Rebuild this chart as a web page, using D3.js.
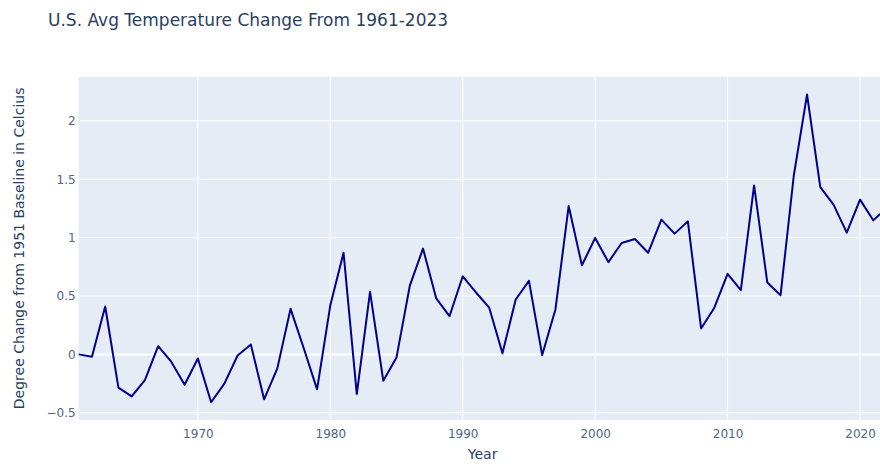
<!DOCTYPE html>
<html>
<head>
<meta charset="utf-8">
<script src="https://cdn.jsdelivr.net/npm/d3@7"></script>
<style>
  body { margin: 0; background: #fff; }
  svg { display: block; font-family: "DejaVu Sans", verdana, sans-serif; }
</style>
</head>
<body>
<div id="figure"></div>
<script>
// yearly values
var years = d3.range(1961, 2023);
var tempChange = [
  0.00, -0.02, 0.41, -0.285, -0.36, -0.22, 0.07, -0.065, -0.26, -0.035,
  -0.41, -0.25, -0.01, 0.085, -0.385, -0.12, 0.39, 0.05, -0.30, 0.42,
  0.87, -0.34, 0.535, -0.225, -0.026, 0.586, 0.906, 0.479, 0.327, 0.669,
  0.53, 0.40, 0.01, 0.47, 0.63, -0.006, 0.385, 1.27, 0.763, 0.997,
  0.79, 0.954, 0.988, 0.87, 1.154, 1.034, 1.139, 0.222, 0.40, 0.69,
  0.55, 1.447, 0.615, 0.507, 1.532, 2.225, 1.433, 1.282, 1.043, 1.325,
  1.148, 1.25
];
var xTicks = [1970, 1980, 1990, 2000, 2010, 2020];
var yTicks = [-0.5, 0, 0.5, 1, 1.5, 2];

var w = 880, h = 464;
var margin = {left: 78.7, top: 76.7, right: 886.5, bottom: 420};
var font = "\"DejaVu Sans\", verdana, sans-serif";

var svg = d3.select("#figure").append("svg")
  .attr("width", w).attr("height", h);

var x = d3.scaleLinear().domain([1961, 2022]).range([margin.left, margin.right]);
var y = d3.scaleLinear().domain([-0.562, 2.378]).range([margin.bottom, margin.top]);

svg.append("rect")
  .attr("x", margin.left)
  .attr("y", margin.top)
  .attr("width", margin.right - margin.left)
  .attr("height", margin.bottom - margin.top)
  .attr("fill", "#E5ECF6");

// grid
svg.append("g").selectAll("line")
  .data(xTicks).enter().append("line")
  .attr("x1", function(d) { return x(d); })
  .attr("x2", function(d) { return x(d); })
  .attr("y1", margin.top).attr("y2", margin.bottom)
  .attr("stroke", "#fff").attr("stroke-width", 1);

svg.append("g").selectAll("line")
  .data(yTicks).enter().append("line")
  .attr("x1", margin.left).attr("x2", margin.right)
  .attr("y1", function(d) { return y(d); })
  .attr("y2", function(d) { return y(d); })
  .attr("stroke", "#fff")
  .attr("stroke-width", function(d) { return d == 0 ? 2 : 1; });

// axes via d3 (domain and tick marks hidden, labels only)
var fmt = function(d) { return d < 0 ? "\u2212" + Math.abs(d) : String(d); };

var xAxis = svg.append("g")
  .attr("transform", "translate(0," + margin.bottom + ")")
  .call(d3.axisBottom(x).tickValues(xTicks).tickFormat(d3.format("d")).tickSize(0).tickPadding(9));

var yAxis = svg.append("g")
  .attr("transform", "translate(" + margin.left + ",0)")
  .call(d3.axisLeft(y).tickValues(yTicks).tickFormat(fmt).tickSize(0).tickPadding(3));

[xAxis, yAxis].forEach(function(a) {
  a.select(".domain").remove();
  a.selectAll("text")
    .attr("fill", "#506784")
    .style("font-size", "12px")
    .style("font-family", font);
});

// line
var line = d3.line()
  .x(function(d, i) { return x(years[i]); })
  .y(function(d) { return y(d); });

svg.append("path")
  .datum(tempChange)
  .attr("d", line)
  .attr("fill", "none")
  .attr("stroke", "darkblue")
  .attr("stroke-width", 2)
  .attr("stroke-linejoin", "round");

// titles
svg.append("text")
  .text("U.S. Avg Temperature Change From 1961-2023")
  .attr("x", 48)
  .attr("y", 26)
  .attr("fill", "#2a3f5f")
  .style("font-size", "17px");

svg.append("text")
  .text("Year")
  .attr("x", (margin.left + margin.right) / 2)
  .attr("y", 459)
  .attr("text-anchor", "middle")
  .attr("fill", "#2a3f5f")
  .style("font-size", "14px");

svg.append("text")
  .text("Degree Change from 1951 Baseline in Celcius")
  .attr("transform", "translate(24," + (margin.top + margin.bottom) / 2 + ") rotate(-90)")
  .attr("text-anchor", "middle")
  .attr("fill", "#2a3f5f")
  .style("font-size", "14px");
</script>
</body>
</html>
